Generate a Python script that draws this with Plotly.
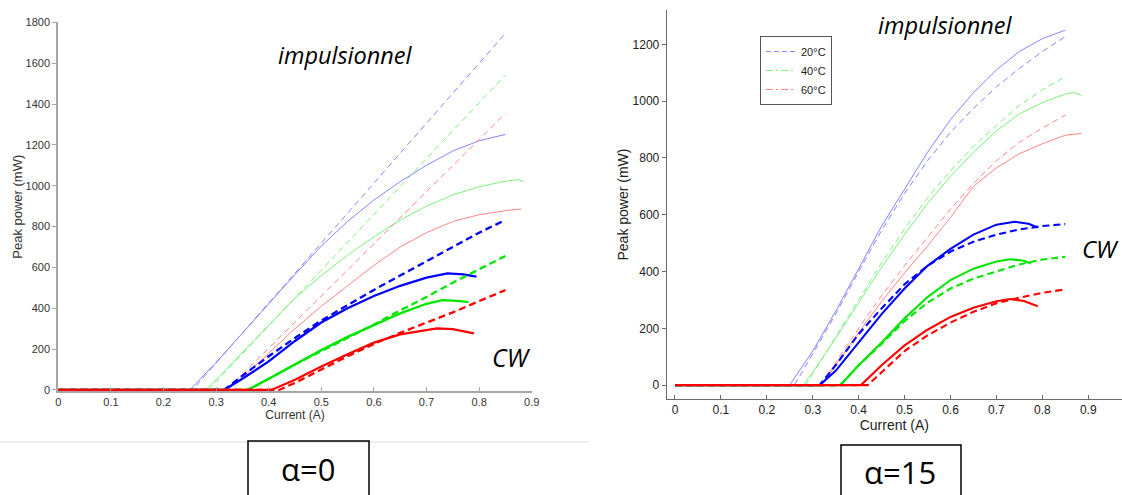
import plotly.graph_objects as go

# ---------------- data : alpha = 0 (left panel) ----------------
a0_imp_20_x = [0, 0.25, 0.30, 0.35, 0.40, 0.45, 0.50, 0.55, 0.60, 0.65, 0.70, 0.75, 0.80, 0.85]
a0_imp_20_y = [0, 0, 135, 280, 425, 565, 705, 825, 930, 1020, 1100, 1170, 1220, 1251]
a0_imp_20_sim_x = [0, 0.255, 0.85]
a0_imp_20_sim_y = [0, 0, 1746]
a0_imp_40_x = [0, 0.28, 0.30, 0.35, 0.40, 0.45, 0.50, 0.55, 0.60, 0.65, 0.70, 0.75, 0.80, 0.85, 0.875, 0.885]
a0_imp_40_y = [0, 0, 50, 185, 320, 450, 560, 660, 750, 832, 900, 955, 995, 1022, 1030, 1018]
a0_imp_40_sim_x = [0, 0.285, 0.85]
a0_imp_40_sim_y = [0, 0, 1542]
a0_imp_60_x = [0, 0.32, 0.35, 0.40, 0.45, 0.50, 0.55, 0.60, 0.65, 0.70, 0.75, 0.80, 0.85, 0.88]
a0_imp_60_y = [0, 0, 60, 180, 300, 410, 510, 610, 700, 770, 825, 858, 878, 886]
a0_imp_60_sim_x = [0, 0.32, 0.85]
a0_imp_60_sim_y = [0, 0, 1354]
a0_cw_20_x = [0, 0.315, 0.35, 0.40, 0.45, 0.50, 0.55, 0.60, 0.65, 0.70, 0.74, 0.77, 0.795]
a0_cw_20_y = [0, 0, 55, 140, 240, 330, 400, 460, 510, 550, 571, 566, 555]
a0_cw_20_sim_x = [0, 0.315, 0.35, 0.40, 0.45, 0.50, 0.55, 0.60, 0.65, 0.70, 0.75, 0.80, 0.85]
a0_cw_20_sim_y = [0, 0, 70, 165, 255, 340, 415, 490, 560, 630, 700, 770, 832]
a0_cw_40_x = [0, 0.36, 0.40, 0.45, 0.50, 0.55, 0.60, 0.65, 0.70, 0.73, 0.76, 0.78]
a0_cw_40_y = [0, 0, 55, 125, 195, 260, 318, 375, 422, 440, 436, 430]
a0_cw_40_sim_x = [0, 0.36, 0.40, 0.45, 0.50, 0.55, 0.60, 0.65, 0.70, 0.75, 0.80, 0.85]
a0_cw_40_sim_y = [0, 0, 55, 125, 190, 255, 320, 390, 455, 525, 590, 656]
a0_cw_60_x = [0, 0.405, 0.45, 0.50, 0.55, 0.60, 0.65, 0.70, 0.72, 0.75, 0.79]
a0_cw_60_y = [0, 0, 50, 115, 175, 232, 272, 296, 302, 298, 277]
a0_cw_60_sim_x = [0, 0.42, 0.45, 0.50, 0.55, 0.60, 0.65, 0.70, 0.75, 0.80, 0.85]
a0_cw_60_sim_y = [0, 0, 35, 100, 165, 225, 280, 330, 380, 435, 489]

# ---------------- data : alpha = 15 (right panel) ----------------
a15_imp_20_x = [0, 0.25, 0.30, 0.35, 0.40, 0.45, 0.50, 0.55, 0.60, 0.65, 0.70, 0.75, 0.80, 0.85]
a15_imp_20_y = [0, 0, 120, 260, 410, 560, 690, 820, 935, 1030, 1110, 1175, 1220, 1250]
a15_imp_20_sim_x = [0, 0.26, 0.30, 0.35, 0.40, 0.45, 0.50, 0.55, 0.60, 0.65, 0.70, 0.75, 0.80, 0.85]
a15_imp_20_sim_y = [0, 0, 110, 250, 400, 545, 675, 790, 890, 975, 1050, 1115, 1175, 1227]
a15_imp_40_x = [0, 0.28, 0.30, 0.35, 0.40, 0.45, 0.50, 0.55, 0.60, 0.65, 0.70, 0.75, 0.80, 0.85, 0.87, 0.885]
a15_imp_40_y = [0, 0, 45, 165, 290, 415, 530, 640, 735, 820, 895, 955, 995, 1025, 1030, 1020]
a15_imp_40_sim_x = [0, 0.285, 0.30, 0.35, 0.40, 0.45, 0.50, 0.55, 0.60, 0.65, 0.70, 0.75, 0.80, 0.85]
a15_imp_40_sim_y = [0, 0, 40, 170, 300, 430, 550, 660, 755, 840, 915, 985, 1040, 1086]
a15_imp_60_x = [0, 0.32, 0.35, 0.40, 0.45, 0.50, 0.55, 0.60, 0.65, 0.70, 0.75, 0.80, 0.85, 0.885]
a15_imp_60_y = [0, 0, 70, 185, 295, 395, 490, 590, 700, 765, 815, 850, 880, 886]
a15_imp_60_sim_x = [0, 0.32, 0.35, 0.40, 0.45, 0.50, 0.55, 0.60, 0.65, 0.70, 0.75, 0.80, 0.85]
a15_imp_60_sim_y = [0, 0, 80, 200, 315, 420, 520, 620, 710, 790, 855, 905, 951]
a15_cw_20_x = [0, 0.315, 0.35, 0.40, 0.45, 0.50, 0.55, 0.60, 0.65, 0.70, 0.74, 0.77, 0.79]
a15_cw_20_y = [0, 0, 50, 150, 250, 340, 420, 480, 530, 565, 575, 568, 555]
a15_cw_20_sim_x = [0, 0.315, 0.35, 0.40, 0.45, 0.50, 0.55, 0.60, 0.65, 0.70, 0.75, 0.80, 0.85]
a15_cw_20_sim_y = [0, 0, 70, 180, 270, 355, 420, 470, 505, 530, 548, 560, 567]
a15_cw_40_x = [0, 0.36, 0.40, 0.45, 0.50, 0.55, 0.60, 0.65, 0.70, 0.73, 0.76, 0.775]
a15_cw_40_y = [0, 0, 70, 150, 235, 310, 370, 410, 435, 443, 438, 428]
a15_cw_40_sim_x = [0, 0.36, 0.40, 0.45, 0.50, 0.55, 0.60, 0.65, 0.70, 0.75, 0.80, 0.85]
a15_cw_40_sim_y = [0, 0, 70, 145, 225, 290, 340, 375, 400, 425, 442, 452]
a15_cw_60_x = [0, 0.405, 0.45, 0.50, 0.55, 0.60, 0.65, 0.70, 0.73, 0.76, 0.79]
a15_cw_60_y = [0, 0, 70, 140, 195, 240, 272, 295, 303, 296, 278]
a15_cw_60_sim_x = [0, 0.42, 0.45, 0.50, 0.55, 0.60, 0.65, 0.70, 0.75, 0.80, 0.85]
a15_cw_60_sim_y = [0, 0, 45, 120, 175, 220, 258, 288, 308, 325, 337]

temperatures = ["20°C", "40°C", "60°C"]
x_ticks = [0, 0.1, 0.2, 0.3, 0.4, 0.5, 0.6, 0.7, 0.8, 0.9]
y_ticks_a0 = [0, 200, 400, 600, 800, 1000, 1200, 1400, 1600, 1800]
y_ticks_a15 = [0, 200, 400, 600, 800, 1000, 1200]

# ---------------- styling ----------------
W, H = 1122, 495
LIGHT = ["#8484ff", "#7cf07c", "#ff8484"]
DARK = ["#0000ff", "#00e600", "#ff0000"]
THIN_DASH = "6px,4px"
THICK_DASH = "7px,4px"
ARIAL = "Arial, Liberation Sans, sans-serif"
SANS = "Open Sans, Noto Sans, sans-serif"


def px(xp):
    return xp / W


def py(yp):
    return 1 - yp / H


fig = go.Figure()


def add(x, y, color, width, dash, axis):
    fig.add_trace(go.Scatter(
        x=x, y=y, mode="lines", showlegend=False, hoverinfo="skip",
        line=dict(color=color, width=width, dash=dash),
        xaxis="x" if axis == 1 else "x2", yaxis="y" if axis == 1 else "y2"))


panels = [
    (1, [(a0_imp_20_x, a0_imp_20_y, a0_imp_20_sim_x, a0_imp_20_sim_y),
         (a0_imp_40_x, a0_imp_40_y, a0_imp_40_sim_x, a0_imp_40_sim_y),
         (a0_imp_60_x, a0_imp_60_y, a0_imp_60_sim_x, a0_imp_60_sim_y)],
        [(a0_cw_20_x, a0_cw_20_y, a0_cw_20_sim_x, a0_cw_20_sim_y),
         (a0_cw_40_x, a0_cw_40_y, a0_cw_40_sim_x, a0_cw_40_sim_y),
         (a0_cw_60_x, a0_cw_60_y, a0_cw_60_sim_x, a0_cw_60_sim_y)], 2.3),
    (2, [(a15_imp_20_x, a15_imp_20_y, a15_imp_20_sim_x, a15_imp_20_sim_y),
         (a15_imp_40_x, a15_imp_40_y, a15_imp_40_sim_x, a15_imp_40_sim_y),
         (a15_imp_60_x, a15_imp_60_y, a15_imp_60_sim_x, a15_imp_60_sim_y)],
        [(a15_cw_20_x, a15_cw_20_y, a15_cw_20_sim_x, a15_cw_20_sim_y),
         (a15_cw_40_x, a15_cw_40_y, a15_cw_40_sim_x, a15_cw_40_sim_y),
         (a15_cw_60_x, a15_cw_60_y, a15_cw_60_sim_x, a15_cw_60_sim_y)], 2.1),
]

for axis, imp, cw, thick in panels:
    for i, (mx, my, sx, sy) in enumerate(imp):
        add(sx, sy, LIGHT[i], 1, THIN_DASH, axis)
        add(mx, my, LIGHT[i], 1, "solid", axis)
    for i, (mx, my, sx, sy) in enumerate(cw):
        add(sx, sy, DARK[i], thick, THICK_DASH, axis)
        add(mx, my, DARK[i], thick, "solid", axis)

# legend entries (right panel)
legend_dash = ["5px,3px", "7px,3px,2px,3px", "7px,3px,2px,3px"]
for i, name in enumerate(temperatures):
    fig.add_trace(go.Scatter(
        x=[None], y=[None], mode="lines", name=name, showlegend=True,
        line=dict(color=LIGHT[i], width=1.2, dash=legend_dash[i]),
        xaxis="x2", yaxis="y2"))

common_x = dict(showgrid=False, zeroline=False, showline=True, ticks="inside",
                ticklen=4, tickvals=x_ticks, mirror=False, automargin=False)
common_y = dict(showgrid=False, zeroline=False, showline=True, ticks="outside",
                ticklen=4, mirror=False, automargin=False)

fig.update_layout(
    width=W, height=H,
    margin=dict(l=0, r=0, t=0, b=0, pad=0, autoexpand=False),
    paper_bgcolor="white", plot_bgcolor="rgba(0,0,0,0)",
    xaxis=dict(**common_x, domain=[px(58.3), px(531.7)], range=[0, 0.9], anchor="y",
               linecolor="#a6a6a6", linewidth=2, tickcolor="#a6a6a6",
               tickfont=dict(family=ARIAL, size=11, color="#333"),
               title=dict(text="Current (A)", standoff=2,
                          font=dict(family=ARIAL, size=12, color="#333"))),
    yaxis=dict(**common_y, domain=[py(391.2), py(22.3)], range=[-6, 1800], anchor="x",
               tickvals=y_ticks_a0,
               linecolor="#a6a6a6", linewidth=2, tickcolor="#a6a6a6",
               tickfont=dict(family=ARIAL, size=11, color="#333"),
               title=dict(text="Peak power (mW)", standoff=0,
                          font=dict(family=ARIAL, size=13, color="#333"))),
    xaxis2=dict(**common_x, domain=[px(666.7), 1.0], range=[-0.018, 0.9735], anchor="y2",
                linecolor="#6a6a6a", linewidth=1, tickcolor="#6a6a6a",
                tickfont=dict(family=ARIAL, size=12, color="#222"),
                title=dict(text="Current (A)", standoff=2,
                           font=dict(family=ARIAL, size=14, color="#222"))),
    yaxis2=dict(**common_y, domain=[py(399), py(10)], range=[-49, 1321], anchor="x2",
                tickvals=y_ticks_a15,
                linecolor="#6a6a6a", linewidth=1, tickcolor="#6a6a6a",
                tickfont=dict(family=ARIAL, size=12, color="#222"),
                title=dict(text="Peak power (mW)", standoff=0,
                           font=dict(family=ARIAL, size=14, color="#222"))),
    legend=dict(x=px(760), y=py(36), xanchor="left", yanchor="top",
                bgcolor="white", bordercolor="#555", borderwidth=1,
                font=dict(family=ARIAL, size=11, color="#222"), itemwidth=30),
)

ann_font_it = dict(family=SANS, color="black", style="italic")
annotations = [
    dict(text="impulsionnel", x=px(346), y=py(55), font=dict(size=23.5, **ann_font_it)),
    dict(text="CW", x=px(512), y=py(357), font=dict(size=25, **ann_font_it)),
    dict(text="impulsionnel", x=px(945), y=py(25), font=dict(size=23.5, **ann_font_it)),
    dict(text="CW", x=px(1100), y=py(248), font=dict(size=24, **ann_font_it)),
    dict(text="α=0", x=px(308), y=py(469), font=dict(family=SANS, size=31, color="black")),
    dict(text="α=15", x=px(900), y=py(472), font=dict(family=SANS, size=31, color="black")),
]
for a in annotations:
    fig.add_annotation(xref="paper", yref="paper", showarrow=False,
                       xanchor="center", yanchor="middle", **a)

fig.add_shape(type="line", xref="paper", yref="paper",
              x0=0, x1=px(589), y0=py(442), y1=py(442),
              line=dict(color="#d9d9d9", width=1))
fig.add_shape(type="rect", xref="paper", yref="paper",
              x0=px(248), x1=px(369), y0=py(500), y1=py(441),
              line=dict(color="black", width=1.5))
fig.add_shape(type="rect", xref="paper", yref="paper",
              x0=px(841), x1=px(961), y0=py(500), y1=py(445),
              line=dict(color="black", width=1.5))

# remove the browser's default 8px body margin so the figure sits at the page origin
fig.write_html("out.html", config={"displayModeBar": False},
               post_script="document.body.style.margin='0';document.body.style.overflow='hidden';")
